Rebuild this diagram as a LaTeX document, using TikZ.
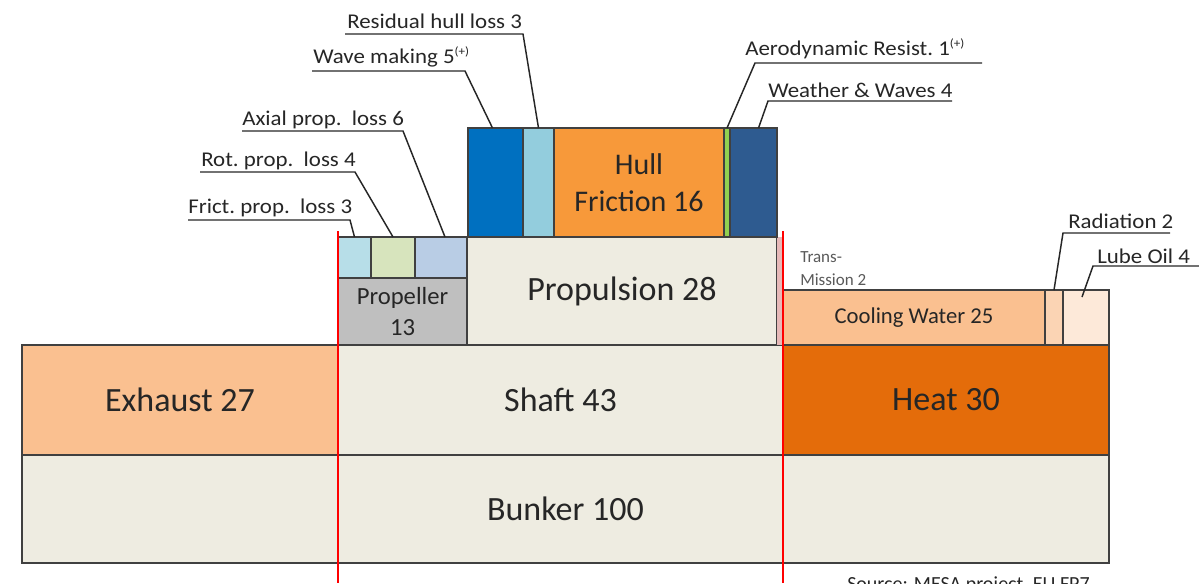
\documentclass[tikz,border=0pt]{standalone}
\usepackage{fontspec}
\setmainfont{Carlito}
\newfontfamily\lblfont[FakeStretch=1.09]{Carlito}
\usetikzlibrary{calc}
\definecolor{beige}{HTML}{EEECE1}
\definecolor{exh}{HTML}{FAC090}
\definecolor{heat}{HTML}{E46C0A}
\definecolor{propgray}{HTML}{BFBFBF}
\definecolor{sqA}{HTML}{B7DEE8}
\definecolor{sqB}{HTML}{D7E4BD}
\definecolor{sqC}{HTML}{B9CDE5}
\definecolor{trans}{HTML}{E6B9B8}
\definecolor{hullDB}{HTML}{0070C0}
\definecolor{hullLB}{HTML}{93CDDD}
\definecolor{hullOr}{HTML}{F7993A}
\definecolor{hullGr}{HTML}{92D050}
\definecolor{hullWx}{HTML}{2E5B90}
\definecolor{radc}{HTML}{FBD4B4}
\definecolor{lubec}{HTML}{FDE9D9}
\definecolor{boxline}{HTML}{404040}
\definecolor{txt}{HTML}{262626}
\definecolor{soft}{HTML}{595959}
\begin{document}
\begin{tikzpicture}[x=0.75pt,y=-0.75pt,
  box/.style={draw=boxline, line width=1.1pt, inner sep=0pt, outer sep=0pt, anchor=north west, text=txt, align=center},
  big/.style={font=\fontsize{25.5pt}{29pt}\selectfont},
  mid/.style={font=\fontsize{18.5pt}{23pt}\selectfont},
  lbl/.style={inner sep=0pt, anchor=base west, text=txt, font=\lblfont\fontsize{15.75pt}{18pt}\selectfont},
  leader/.style={draw=black!85, line width=1.1pt},
  redline/.style={draw=red, line width=1.6pt}]
\useasboundingbox (0,0) rectangle (1199,583);
% main blocks
\node[box, fill=beige, big, minimum width=1087*0.75pt, minimum height=108*0.75pt] (bunker) at (22,455) {Bunker 100};
\node[box, fill=exh, big, minimum width=316*0.75pt, minimum height=110*0.75pt] (exhaust) at (22,345) {Exhaust 27};
\node[box, fill=beige, big, minimum width=445*0.75pt, minimum height=110*0.75pt] (shaft) at (338,345) {Shaft 43};
\node[box, fill=heat, big, minimum width=326*0.75pt, minimum height=110*0.75pt] (heat) at (783,345) {Heat 30};
% propeller
\node[box, fill=propgray, mid, minimum width=129*0.75pt, minimum height=67*0.75pt] (prop) at (338,278) {Propeller\\13};
\node[box, fill=sqA, minimum width=33*0.75pt, minimum height=41*0.75pt] (sq1) at (338,237) {};
\node[box, fill=sqB, minimum width=44*0.75pt, minimum height=41*0.75pt] (sq2) at (371,237) {};
\node[box, fill=sqC, minimum width=52*0.75pt, minimum height=41*0.75pt] (sq3) at (415,237) {};
% propulsion
\node[box, fill=beige, font=\fontsize{25.5pt}{29pt}\selectfont, minimum width=310*0.75pt, minimum height=108*0.75pt] (propulsion) at (467,237) {Propulsion 28};
\node[box, draw=none, fill=trans, minimum width=6*0.75pt, minimum height=108*0.75pt] (transm) at (777,237) {};
% hull
\node[box, fill=hullDB, minimum width=55*0.75pt, minimum height=109*0.75pt] (hdb) at (468,128) {};
\node[box, fill=hullLB, minimum width=31*0.75pt, minimum height=109*0.75pt] (hlb) at (523,128) {};
\node[box, fill=hullOr, font=\fontsize{22.5pt}{28pt}\selectfont, minimum width=170*0.75pt, minimum height=109*0.75pt] (hor) at (554,128) {Hull\\Friction 16};
\node[box, fill=hullGr, minimum width=6*0.75pt, minimum height=109*0.75pt] (hgr) at (724,128) {};
\node[box, fill=hullWx, minimum width=47*0.75pt, minimum height=109*0.75pt] (hwx) at (730,128) {};
% heat side
\node[box, fill=exh, font=\fontsize{17pt}{20pt}\selectfont, minimum width=262*0.75pt, minimum height=55*0.75pt] (cool) at (783,290) {Cooling Water 25};
\node[box, fill=radc, minimum width=18*0.75pt, minimum height=55*0.75pt] (rad) at (1045,290) {};
\node[box, fill=lubec, minimum width=46*0.75pt, minimum height=55*0.75pt] (lube) at (1063,290) {};
% red lines
\coordinate (rLt) at (338,231); \coordinate (rLb) at (338,583);
\coordinate (rRt) at (783,231); \coordinate (rRb) at (783,583);
\draw[redline] (rLt) -- (rLb);
\draw[redline] (rRt) -- (rRb);
% labels
\node[lbl] (tResid) at (347,28) {Residual hull loss 3};
\coordinate (uResid) at (345,34);
\draw[leader] (uResid) -- (523,34) -- (hlb.north);
\node[lbl] (tWave) at (313,63) {Wave making 5\raisebox{0.7ex}{\fontsize{9pt}{9pt}\selectfont(+)}};
\coordinate (uWave) at (312,71);
\draw[leader] (uWave) -- (465,71) -- ($(hdb.north)+(-3,0)$);
\node[lbl] (tAxial) at (242,125) {Axial prop.\ \ loss 6};
\coordinate (uAxial) at (242,131);
\draw[leader] (uAxial) -- (403,131) -- ($(sq3.north)+(4,0)$);
\node[lbl] (tRot) at (201,166) {Rot.\ prop.\ \ loss 4};
\coordinate (uRot) at (200,172);
\draw[leader] (uRot) -- (355,172) -- (sq2.north);
\node[lbl] (tFrict) at (188,213) {Frict.\ prop.\ \ loss 3};
\coordinate (uFrict) at (188,220);
\draw[leader] (uFrict) -- (350,220) -- (sq1.north);
\node[lbl] (tAero) at (745,55) {Aerodynamic Resist.\ 1\raisebox{0.7ex}{\fontsize{9pt}{9pt}\selectfont(+)}};
\coordinate (uAero) at (982,63);
\draw[leader] (uAero) -- (755,63) -- (hgr.north);
\node[lbl] (tWeather) at (768,97) {Weather \& Waves 4};
\coordinate (uWeather) at (952,101);
\draw[leader] (uWeather) -- (768,101) -- ($(hwx.north)+(5,0)$);
\node[lbl] (tRad) at (1068,228) {Radiation 2};
\coordinate (uRad) at (1170,233);
\draw[leader] (uRad) -- (1063,233) -- (rad.north);
\node[lbl] (tLube) at (1097,263) {Lube Oil 4};
\coordinate (uLube) at (1199,266);
\draw[leader] (uLube) -- (1093,266) -- ($(lube.north)+(-4,7)$);
% transmission text
\node[inner sep=0pt, anchor=north west, align=left, text=soft, font=\fontsize{12.75pt}{17.25pt}\selectfont] (ttrans) at (800,251) {Trans-\\Mission 2};
% source
\node[inner sep=0pt, anchor=base west, text=txt, font=\fontsize{15pt}{18pt}\selectfont] (src) at (847,590) {Source: MESA project, EU FP7};
\end{tikzpicture}
\end{document}
